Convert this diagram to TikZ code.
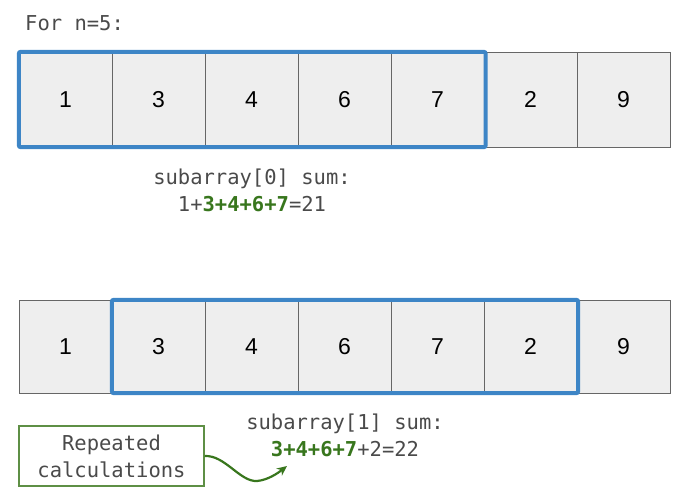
\documentclass[tikz,border=0pt]{standalone}
\usepackage{fontspec}
\setmainfont{Liberation Sans}
\setmonofont{DejaVu Sans Mono}
\usetikzlibrary{arrows.meta}
\definecolor{cellfill}{HTML}{EEEEEE}
\definecolor{cellline}{HTML}{666666}
\definecolor{winblue}{HTML}{3D85C6}
\definecolor{txtgray}{HTML}{4A4A4A}
\definecolor{sumgreen}{HTML}{38761D}
\definecolor{boxgreen}{HTML}{5E8F45}
\newcommand{\hl}[1]{\textcolor{sumgreen}{\bfseries #1}}

\begin{document}
\begin{tikzpicture}[x=1pt, y=-1pt,
    cell/.style={draw=cellline, fill=cellfill, minimum width=93pt, minimum height=95pt,
        inner sep=0pt, font=\fontsize{23}{23}\selectfont},
    window/.style={draw=winblue, line width=4pt, rounded corners=2pt},
    codetext/.style={text=txtgray, align=center, inner sep=0pt,
        font=\ttfamily\fontsize{20.5}{27}\selectfont}]
    \useasboundingbox (0, 0) rectangle (690, 501);
    \node[codetext, anchor=west] (title) at (25, 23) {For n=5:};
    % first window
    \foreach \i/\val in {1/1, 2/3, 3/4, 4/6, 5/7, 6/2, 7/9} {
        \node[cell] (a\i) at (19 + 93*\i - 46.5, 99.5) {\val};
    }
    \draw[window] (a1.north west) rectangle ([xshift=1.5pt]a5.south east);
    \node[codetext] (suma) at (252, 190) {subarray[0] sum:\\1+\hl{3+4+6+7}=21};
    % second window
    \foreach \i/\val in {1/1, 2/3, 3/4, 4/6, 5/7, 6/2, 7/9} {
        \node[cell, minimum height=93pt] (b\i) at (19 + 93*\i - 46.5, 346.5) {\val};
    }
    \draw[window] (b2.north west) rectangle ([xshift=1pt]b6.south east);
    \node[codetext] (sumb) at (345, 435) {subarray[1] sum:\\\hl{3+4+6+7}+2=22};
    \node[codetext, draw=boxgreen, line width=1.5pt, minimum width=185pt, minimum height=60pt]
        (rep) at (111.5, 456) {Repeated\\calculations};
    \coordinate (tip) at (287, 466);
    \draw[sumgreen, line width=2.2pt, -{Stealth[length=10pt, width=9pt]}]
        (rep.east) .. controls (225, 455) and (240, 482) .. (257, 481)
        .. controls (268, 480) and (278, 473) .. (tip);
\end{tikzpicture}
\end{document}
